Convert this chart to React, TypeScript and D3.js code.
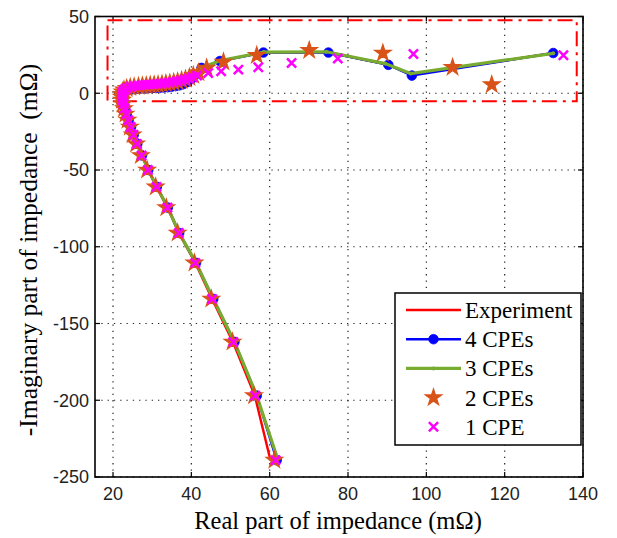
import React from 'react';
import * as d3 from 'd3';

const xTicks = [20, 40, 60, 80, 100, 120, 140];
const yTicks = [-250, -200, -150, -100, -50, 0, 50];

const expRe = [60.2, 56.2, 50.6, 45.3, 41.0, 36.8, 33.9, 31.1, 29.0, 27.4, 26.2, 25.3, 24.6, 24.0, 23.5, 23.1, 22.8, 22.6, 22.5, 22.5, 22.7, 23.2, 24.0, 25.0, 26.0, 27.0, 28.0, 29.0, 30.0, 31.0, 32.0, 33.0, 34.0, 35.0, 36.0, 37.0, 38.0, 39.0, 40.0, 41.0, 42.7, 47.4, 58.4, 74.8, 90.0, 96.2, 132.4];
const expIm = [-239, -197, -162, -134, -110.5, -91, -74.5, -61, -50, -40.5, -33, -27, -22, -17.5, -13.5, -10, -7, -4.5, -2.3, -0.5, 0.8, 1.7, 2.3, 2.7, 2.9, 3.1, 3.2, 3.3, 3.4, 3.5, 3.6, 3.8, 4.0, 4.3, 4.7, 5.2, 6.0, 7.3, 9.2, 12.2, 16.6, 21.1, 26.6, 26.7, 18.9, 12.2, 26.1];

const cpe4Re = [61.8, 56.7, 51.0, 45.6, 41.2, 36.9, 34.0, 31.2, 29.0, 27.4, 26.2, 25.3, 24.6, 24.0, 23.5, 23.1, 22.8, 22.6, 22.5, 22.5, 22.7, 23.2, 24.0, 25.0, 26.0, 27.0, 28.0, 29.0, 30.0, 31.0, 32.0, 33.0, 34.0, 35.0, 36.0, 37.0, 38.0, 39.0, 40.0, 41.0, 42.6, 47.3, 58.4, 75.0, 90.3, 96.3, 132.4];
const cpe4Im = [-239, -197, -162, -134, -110.5, -91, -74.5, -61, -50, -40.5, -33, -27, -22, -17.5, -13.5, -10, -7, -4.5, -2.3, -0.5, 0.8, 1.7, 2.3, 2.7, 2.9, 3.1, 3.2, 3.3, 3.4, 3.5, 3.6, 3.8, 4.0, 4.3, 4.7, 5.2, 6.0, 7.3, 9.2, 12.0, 16.5, 21.0, 26.5, 26.5, 18.5, 11.5, 26.2];

const cpe3Re = [62.0, 56.7, 51.0, 45.6, 41.2, 36.9, 34.0, 31.2, 29.0, 27.4, 26.2, 25.3, 24.6, 24.0, 23.5, 23.1, 22.8, 22.6, 22.5, 22.5, 22.7, 23.2, 24.0, 25.0, 26.0, 27.0, 28.0, 29.0, 30.0, 31.0, 32.0, 33.0, 34.0, 35.0, 36.0, 37.0, 38.0, 39.0, 40.0, 41.2, 42.8, 47.5, 58.5, 74.5, 89.5, 96.0, 132.4];
const cpe3Im = [-238, -197, -162, -134, -110.5, -91, -74.5, -61, -50, -40.5, -33, -27, -22, -17.5, -13.5, -10, -7, -4.5, -2.2, -0.3, 1.1, 2.2, 3.0, 3.5, 3.8, 4.0, 4.2, 4.3, 4.4, 4.5, 4.6, 4.8, 5.0, 5.3, 5.7, 6.2, 7.0, 8.2, 10.0, 12.5, 16.8, 21.3, 26.8, 27.0, 19.3, 12.8, 26.0];

const cpe2Re = [61.2, 56.0, 50.5, 45.1, 40.8, 36.5, 33.6, 30.9, 28.7, 27.1, 25.9, 25.0, 24.3, 23.7, 23.2, 22.8, 22.5, 22.3, 22.2, 22.2, 22.4, 22.8, 23.5, 24.4, 25.4, 26.5, 27.5, 28.5, 29.5, 30.5, 31.5, 32.5, 33.5, 34.5, 35.5, 36.5, 37.5, 38.5, 39.5, 40.5, 41.8, 43.9, 48.2, 56.7, 70.1, 88.9, 106.7, 116.7];
const cpe2Im = [-239, -197, -162, -134, -110.5, -91, -74.5, -61, -50, -40.5, -33, -27, -22, -17.5, -13.5, -10, -7, -4.5, -2.4, -0.6, 1.0, 2.2, 3.2, 3.8, 4.2, 4.5, 4.8, 5.0, 5.2, 5.4, 5.6, 5.9, 6.2, 6.6, 7.0, 7.6, 8.3, 9.2, 10.3, 11.6, 13.5, 16.5, 20.4, 24.7, 28.0, 26.2, 16.9, 5.6];

const cpe1Re = [61.5, 56.3, 50.7, 45.3, 41.0, 36.8, 33.9, 31.1, 28.9, 27.3, 26.1, 25.2, 24.5, 23.9, 23.4, 23.0, 22.7, 22.5, 22.4, 22.4, 22.6, 23.0, 23.6, 24.4, 25.3, 26.3, 27.3, 28.3, 29.3, 30.3, 31.3, 32.3, 33.3, 34.3, 35.3, 36.3, 37.3, 38.3, 39.3, 40.3, 41.5, 44.3, 47.6, 52.0, 57.1, 65.6, 77.4, 96.7, 135.0];
const cpe1Im = [-239, -197, -162, -134, -110.5, -91, -74.5, -61, -50, -40.5, -33, -27, -22, -17.5, -13.5, -10, -7, -4.5, -2.4, -0.5, 1.2, 2.5, 3.5, 4.2, 4.7, 5.0, 5.3, 5.5, 5.7, 5.9, 6.1, 6.4, 6.7, 7.0, 7.4, 7.8, 8.3, 8.9, 9.6, 10.4, 11.5, 13.2, 14.3, 15.4, 16.9, 19.7, 22.6, 25.6, 24.7];

const zoomBoxRe = [18.6, 138.4];
const zoomBoxIm = [-5.2, 47.5];

const legendLabels = ['Experiment', '4 CPEs', '3 CPEs', '2 CPEs', '1 CPE'];

const W = 617;
const H = 538;
const L = 95, R = 583, T = 16.5, B = 477;

const C_RED = '#ff0000';
const C_BLUE = '#0000ff';
const C_GREEN = '#77ac30';
const C_ORANGE = '#d95319';
const C_MAG = '#ff00ff';

const zip = (a: number[], b: number[]) => a.map((v, i) => [v, b[i]] as [number, number]);

export default function App() {
  const x = d3.scaleLinear().domain([15.4, 140]).range([L, R]);
  const y = d3.scaleLinear().domain([-250, 50]).range([B, T]);
  const line = d3.line<[number, number]>().x(d => x(d[0])).y(d => y(d[1]));

  const exp = zip(expRe, expIm);
  const c4 = zip(cpe4Re, cpe4Im);
  const c3 = zip(cpe3Re, cpe3Im);
  const c2 = zip(cpe2Re, cpe2Im);
  const c1 = zip(cpe1Re, cpe1Im);

  const star = d3.symbol().type(d3.symbolStar).size(85)() as string;
  const xs = 4.6;
  const cross = `M${-xs},${-xs}L${xs},${xs}M${-xs},${xs}L${xs},${-xs}`;

  const serif = '"Liberation Serif", "Times New Roman", serif';
  const sans = '"Liberation Sans", Arial, sans-serif';

  const legX0 = 395, legY0 = 293, legW = 186, legH = 152;
  const rowY = (i: number) => 310 + i * 29.2;
  const sampleX1 = 406, sampleX2 = 461, markX = 433.5, textX = 465;

  return (
    <svg width={W} height={H} style={{ position: 'absolute', left: 0, top: 0, background: '#fff' }}>
      <rect x={0} y={0} width={W} height={H} fill="#fff" />
      <g stroke="#222" strokeWidth={1.2} strokeDasharray="1.3,5">
        {xTicks.map(t => (
          <line key={'gx' + t} x1={x(t)} x2={x(t)} y1={B} y2={T} />
        ))}
        {yTicks.map(t => (
          <line key={'gy' + t} x1={L} x2={R} y1={y(t)} y2={y(t)} />
        ))}
      </g>
      <g stroke="#000" strokeWidth={1.2}>
        {xTicks.map(t => (
          <g key={'tx' + t}>
            <line x1={x(t)} x2={x(t)} y1={B} y2={B - 5} />
            <line x1={x(t)} x2={x(t)} y1={T} y2={T + 5} />
          </g>
        ))}
        {yTicks.map(t => (
          <g key={'ty' + t}>
            <line x1={L} x2={L + 5} y1={y(t)} y2={y(t)} />
            <line x1={R} x2={R - 5} y1={y(t)} y2={y(t)} />
          </g>
        ))}
      </g>
      <rect
        x={x(zoomBoxRe[0])}
        y={y(zoomBoxIm[1])}
        width={x(zoomBoxRe[1]) - x(zoomBoxRe[0])}
        height={y(zoomBoxIm[0]) - y(zoomBoxIm[1])}
        fill="none"
        stroke={C_RED}
        strokeWidth={2}
        strokeDasharray="15,6,3,6"
      />
      <path d={line(exp) as string} fill="none" stroke={C_RED} strokeWidth={2.4} />
      <path d={line(c4) as string} fill="none" stroke={C_BLUE} strokeWidth={2.4} />
      {c4.map((d, i) => (
        <circle key={'c4' + i} cx={x(d[0])} cy={y(d[1])} r={4.8} fill={C_BLUE} stroke={C_BLUE} strokeWidth={0.8} />
      ))}
      <path d={line(c3) as string} fill="none" stroke={C_GREEN} strokeWidth={3.2} />
      {c3.map((d, i) => (
        <circle key={'c3' + i} cx={x(d[0])} cy={y(d[1])} r={2} fill={C_GREEN} />
      ))}
      {c2.map((d, i) => (
        <path key={'c2' + i} d={star} transform={`translate(${x(d[0])},${y(d[1])})`} fill={C_ORANGE} stroke={C_ORANGE} strokeWidth={1.2} />
      ))}
      {c1.map((d, i) => (
        <path key={'c1' + i} d={cross} transform={`translate(${x(d[0])},${y(d[1])})`} stroke={C_MAG} strokeWidth={2.5} fill="none" />
      ))}
      <rect x={L} y={T} width={R - L} height={B - T} fill="none" stroke="#000" strokeWidth={1.6} />
      <g fontFamily={sans} fontSize={18} fill="#222">
        {xTicks.map(t => (
          <text key={'lx' + t} x={x(t)} y={500} textAnchor="middle">{t}</text>
        ))}
        {yTicks.map(t => (
          <text key={'ly' + t} x={89} y={y(t)} dy="0.35em" textAnchor="end">{t}</text>
        ))}
      </g>
      <text x={338} y={529} textAnchor="middle" fontFamily={serif} fontSize={24.5} fill="#000">Real part of impedance (mΩ)</text>
      <text
        transform={`translate(37,250) rotate(-90)`}
        textAnchor="middle"
        fontFamily={serif}
        fontSize={25.5}
        fill="#000"
        style={{ whiteSpace: 'pre' }}
      >{'-Imaginary part of impedance  (mΩ)'}</text>
      <rect x={legX0} y={legY0} width={legW} height={legH} fill="#fff" stroke="#000" strokeWidth={1.5} />
      <g fontFamily={serif} fontSize={23} fill="#000">
        {legendLabels.map((lab, i) => (
          <text key={'lt' + i} x={textX} y={rowY(i) + 8}>{lab}</text>
        ))}
      </g>
      <line x1={sampleX1} x2={sampleX2} y1={rowY(0)} y2={rowY(0)} stroke={C_RED} strokeWidth={2.4} />
      <line x1={sampleX1} x2={sampleX2} y1={rowY(1)} y2={rowY(1)} stroke={C_BLUE} strokeWidth={2.4} />
      <circle cx={markX} cy={rowY(1)} r={4.8} fill={C_BLUE} stroke={C_BLUE} strokeWidth={0.8} />
      <line x1={sampleX1} x2={sampleX2} y1={rowY(2)} y2={rowY(2)} stroke={C_GREEN} strokeWidth={3.2} />
      <circle cx={markX} cy={rowY(2)} r={2} fill={C_GREEN} />
      <path d={star} transform={`translate(${markX},${rowY(3)})`} fill={C_ORANGE} stroke={C_ORANGE} strokeWidth={1.2} />
      <path d={cross} transform={`translate(${markX},${rowY(4)})`} stroke={C_MAG} strokeWidth={2.5} fill="none" />
    </svg>
  );
}
